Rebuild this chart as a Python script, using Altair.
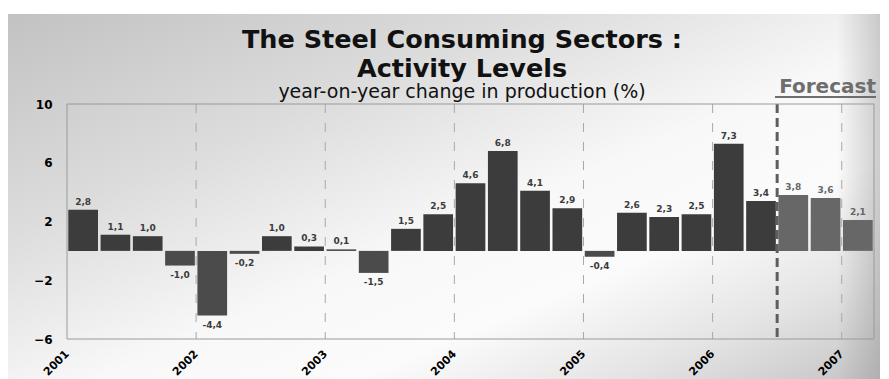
import altair as alt
import pandas as pd

# ---- data ----
values = [2.8, 1.1, 1.0, -1.0, -4.4, -0.2, 1.0, 0.3, 0.1, -1.5, 1.5, 2.5,
          4.6, 6.8, 4.1, 2.9, -0.4, 2.6, 2.3, 2.5, 7.3, 3.4, 3.8, 3.6, 2.1]
phase = ["Actual"] * 22 + ["Forecast"] * 3
years = [2001, 2002, 2003, 2004, 2005, 2006, 2007]
year_lines = [2002, 2003, 2004, 2005, 2006, 2007]
forecast_start = [2006.5]
y_ticks = [-6, -2, 2, 6, 10]
title_lines = ["The Steel Consuming Sectors :", "Activity Levels"]
subtitle = "year-on-year change in production (%)"

labels = [f"{v:.1f}".replace(".", ",") for v in values]
df = pd.DataFrame({"q": list(range(len(values))), "value": values,
                   "phase": phase, "label": labels})
lines_df = pd.DataFrame({"year": year_lines})
fc_df = pd.DataFrame({"year": forecast_start})
one = pd.DataFrame({"k": [0]})

W, H = 807, 235
FONT = "DejaVu Sans"

xscale = alt.Scale(domain=[2001, 2007.25], nice=False, zero=False)
yscale = alt.Scale(domain=[-6, 10], nice=False, zero=False)

grad = {
    "gradient": "linear",
    "x1": 0.0, "y1": 0.0, "x2": 1.0, "y2": 1.0,
    "stops": [
        {"offset": 0.0, "color": "#c2c2c2"},
        {"offset": 0.3, "color": "#dcdcdc"},
        {"offset": 0.55, "color": "#f8f8f8"},
        {"offset": 0.7, "color": "#fbfbfb"},
        {"offset": 0.85, "color": "#e4e4e4"},
        {"offset": 1.0, "color": "#c4c4c4"},
    ],
}
edge = {
    "gradient": "linear",
    "x1": 0.0, "y1": 0.0, "x2": 1.0, "y2": 0.0,
    "stops": [
        {"offset": 0.0, "color": "rgba(150,150,150,0)"},
        {"offset": 0.95, "color": "rgba(150,150,150,0)"},
        {"offset": 1.0, "color": "rgba(150,150,150,0.45)"},
    ],
}

bg = alt.Chart(one).mark_rect(fill=grad).encode(
    x=alt.value(-59), x2=alt.value(813), y=alt.value(-90), y2=alt.value(275)
)
bg_edge = alt.Chart(one).mark_rect(fill=edge).encode(
    x=alt.value(-59), x2=alt.value(813), y=alt.value(-90), y2=alt.value(275)
)

vlines = alt.Chart(lines_df).mark_rule(
    color="#a8a8a8", strokeWidth=1, strokeDash=[9, 10]
).encode(x=alt.X("year:Q", scale=xscale), y=alt.value(0), y2=alt.value(H))

base = alt.Chart(df).transform_calculate(
    x0="2001 + (datum.q + 0.04) / 4",
    x1="2001 + (datum.q + 0.96) / 4",
    xc="2001 + (datum.q + 0.5) / 4",
    grp="datum.phase == 'Forecast' ? 'Forecast' : (datum.value < 0 ? 'Neg' : 'Pos')",
)

bars = base.mark_bar().encode(
    x=alt.X("x0:Q", scale=xscale, title=None,
            axis=alt.Axis(values=years, format="d", labelAngle=-45,
                          labelAlign="right", labelBaseline="middle",
                          labelPadding=13, labelFont=FONT, labelFontSize=11,
                          labelFontWeight="bold", labelColor="#000000",
                          ticks=False, domain=False, grid=False, zindex=1)),
    x2="x1:Q",
    y=alt.Y("value:Q", scale=yscale, title=None,
            axis=alt.Axis(values=y_ticks, labelPadding=15, labelFont=FONT,
                          labelFontSize=12, labelFontWeight="bold",
                          labelColor="#000000", ticks=False, domain=False,
                          grid=False, zindex=1)),
    y2=alt.datum(0),
    color=alt.Color("grp:N", legend=None,
                    scale=alt.Scale(domain=["Pos", "Neg", "Forecast"],
                                    range=["#3c3c3c", "#4b4b4b", "#676767"])),
)

tcolor = alt.Color("phase:N", legend=None,
                   scale=alt.Scale(domain=["Actual", "Forecast"],
                                   range=["#444444", "#707070"]))

pos_text = base.transform_filter("datum.value >= 0").mark_text(
    font=FONT, fontSize=9, fontWeight="bold", baseline="bottom", dy=-3
).encode(x=alt.X("xc:Q", scale=xscale), y=alt.Y("value:Q", scale=yscale),
         text="label:N", color=tcolor)

neg_text = base.transform_filter("datum.value < 0").mark_text(
    font=FONT, fontSize=9, fontWeight="bold", baseline="top", dy=5
).encode(x=alt.X("xc:Q", scale=xscale), y=alt.Y("value:Q", scale=yscale),
         text="label:N", color=tcolor)

fline = alt.Chart(fc_df).mark_rule(
    color="#5e5e5e", strokeWidth=3, strokeDash=[9, 5]
).encode(x=alt.X("year:Q", scale=xscale), y=alt.value(0), y2=alt.value(H))

border = alt.Chart(one).mark_rect(
    fillOpacity=0, stroke="#9a9a9a", strokeWidth=1
).encode(x=alt.value(0), x2=alt.value(W), y=alt.value(0), y2=alt.value(H))

title1 = alt.Chart(one).transform_calculate(t=f"'{title_lines[0]}'").mark_text(
    font=FONT, fontSize=25.5, fontWeight="bold", color="#111111",
    align="center", baseline="alphabetic"
).encode(x=alt.value(395), y=alt.value(-56), text="t:N")

title2 = alt.Chart(one).transform_calculate(t=f"'{title_lines[1]}'").mark_text(
    font=FONT, fontSize=25.5, fontWeight="bold", color="#111111",
    align="center", baseline="alphabetic"
).encode(x=alt.value(395), y=alt.value(-27), text="t:N")

sub = alt.Chart(one).transform_calculate(t=f"'{subtitle}'").mark_text(
    font=FONT, fontSize=19, color="#111111",
    align="center", baseline="alphabetic"
).encode(x=alt.value(395), y=alt.value(-6), text="t:N")

fc_text = alt.Chart(one).transform_calculate(t="'Forecast'").mark_text(
    font=FONT, fontSize=20, fontWeight="bold", color="#6e6e6e",
    align="right", baseline="alphabetic"
).encode(x=alt.value(809), y=alt.value(-11), text="t:N")

fc_under = alt.Chart(one).mark_rule(color="#6e6e6e", strokeWidth=2).encode(
    x=alt.value(708), x2=alt.value(809), y=alt.value(-7)
)

chart = alt.layer(
    bg, bg_edge, vlines, bars, pos_text, neg_text, fline, border,
    title1, title2, sub, fc_text, fc_under
).properties(
    width=W, height=H,
    autosize=alt.AutoSizeParams(type="none"),
    padding={"left": 59, "top": 96, "right": 6, "bottom": 40},
).configure_view(stroke="transparent")

chart.save("out.html", embed_options={"renderer": "svg", "actions": False})
